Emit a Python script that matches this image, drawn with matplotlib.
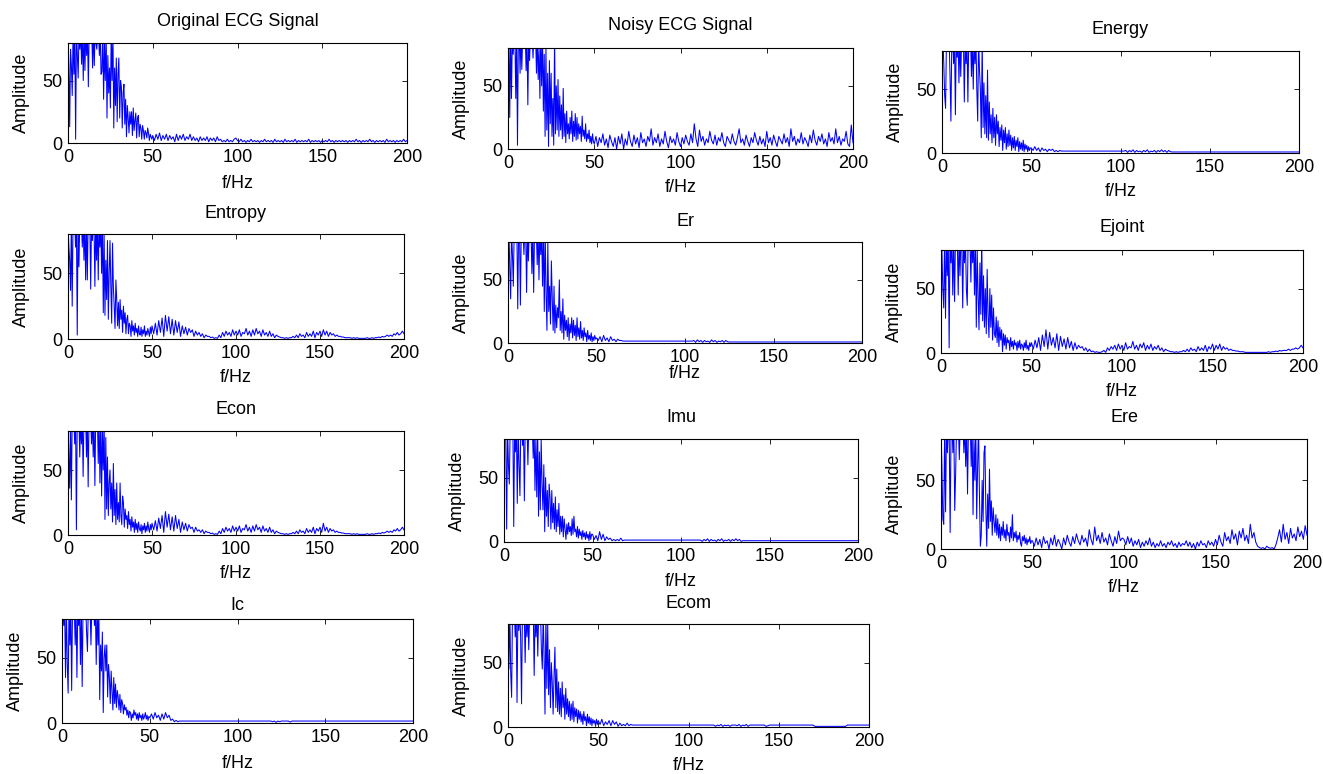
import numpy as np
import matplotlib
matplotlib.use("Agg")
import matplotlib.pyplot as plt

plt.rcParams['font.family'] = ['Liberation Sans', 'DejaVu Sans']
plt.rcParams['font.size'] = 13

# amplitude spectra (values above 80 are clipped in the picture)
# *_lo: 0 - 49.5 Hz in 0.5 Hz steps, *_mid: 50 - 99 Hz and *_hi: 100 - 200 Hz in 1 Hz steps
orig_lo = [90, 60, 13, 75, 62, 38, 90, 55, 90, 3, 90, 70, 52, 90, 75, 90, 63, 90, 50, 90,
           58, 90, 70, 90, 45, 90, 85, 90, 90, 60, 90, 62, 90, 80, 75, 90, 90, 70, 90, 55,
           57, 90, 35, 80, 50, 90, 20, 70, 40, 60, 28, 90, 50, 90, 12, 60, 30, 68, 17, 55,
           68, 20, 50, 45, 12, 40, 47, 15, 35, 5, 30, 20, 8, 25, 15, 25, 6, 28, 10, 18,
           24, 4, 20, 22, 5, 15, 12, 3, 14, 10, 3, 10, 8, 4, 12, 8, 2, 7, 5, 3]
orig_mid = [6, 2, 7, 3, 8, 2, 6, 3, 7, 2, 6, 3, 5, 1, 7, 2, 6, 3, 7, 2,
            5, 3, 7, 2, 5, 2, 4, 1, 5, 2, 4, 2, 5, 1, 4, 2, 4, 1, 5, 2,
            3, 1, 2, 1, 3, 1, 2, 1, 3, 4]
orig_hi = [2, 1, 3, 1, 2, 0.5, 2, 1, 3, 1, 2, 1, 2, 0.5, 2, 1, 3, 1, 2, 1,
           2, 0.5, 3, 1, 2, 1, 2, 0.5, 3, 1, 2, 1, 2, 1, 3, 0.5, 2, 1, 2, 1,
           2, 1, 3, 0.5, 2, 1, 2, 1, 2, 0.5, 2, 1, 2, 1, 3, 1, 2, 0.5, 2, 1,
           2, 1, 2, 1, 2, 0.5, 2, 1, 2, 1, 3, 1, 2, 0.5, 2, 1, 2, 1, 3, 1,
           2, 0.5, 2, 1, 2, 1, 2, 0.5, 3, 1, 2, 1, 2, 0.5, 2, 1, 2, 1, 3, 1, 2]

noisy_lo = [90, 90, 25, 90, 40, 90, 75, 90, 90, 40, 90, 3, 90, 90, 60, 90, 63, 90, 80, 90,
            90, 62, 90, 35, 90, 70, 90, 80, 90, 72, 90, 85, 90, 60, 90, 55, 80, 40, 90, 50,
            90, 30, 75, 10, 80, 15, 60, 2, 70, 20, 60, 10, 40, 3, 90, 12, 50, 15, 55, 10,
            42, 15, 35, 8, 48, 10, 28, 5, 30, 12, 20, 8, 25, 12, 30, 6, 22, 10, 28, 7,
            25, 8, 20, 12, 18, 6, 26, 10, 15, 8, 20, 6, 12, 8, 15, 5, 10, 4, 12, 6]
noisy_mid = [4, 10, 2, 9, 5, 12, 3, 8, 1, 11, 6, 2, 9, 0, 10, 4, 12, 0, 8, 3,
             14, 6, 2, 11, 4, 9, 1, 13, 5, 8, 2, 10, 6, 16, 3, 9, 5, 12, 2, 8,
             4, 14, 6, 1, 10, 5, 8, 3, 13, 6]
noisy_hi = [2, 9, 4, 11, 6, 3, 12, 5, 20, 8, 2, 15, 6, 10, 3, 8, 5, 14, 7, 4,
            11, 3, 9, 6, 13, 5, 2, 10, 7, 4, 12, 6, 3, 9, 16, 5, 8, 3, 11, 6,
            2, 9, 5, 13, 7, 3, 10, 4, 8, 2, 14, 5, 9, 3, 11, 6, 2, 10, 7, 4,
            12, 5, 9, 2, 16, 6, 10, 3, 8, 5, 13, 4, 9, 6, 2, 11, 5, 15, 7, 3,
            10, 6, 12, 4, 8, 2, 13, 6, 9, 4, 16, 5, 10, 3, 8, 6, 14, 4, 2, 19, 5]

energy_lo = [90, 90, 70, 45, 35, 90, 90, 80, 90, 60, 25, 90, 90, 70, 90, 30, 90, 75, 90, 55,
             90, 60, 90, 80, 90, 40, 90, 70, 90, 40, 90, 85, 90, 60, 90, 50, 90, 70, 90, 50,
             25, 90, 65, 50, 12, 90, 20, 55, 15, 45, 12, 65, 10, 40, 15, 30, 8, 35, 12, 28,
             6, 30, 15, 25, 5, 20, 10, 22, 2, 18, 8, 20, 3, 15, 5, 18, 6, 14, 2, 12,
             4, 13, 2, 10, 5, 12, 1, 9, 3, 8, 2, 10, 1, 7, 3, 6, 1, 5, 2, 4]
energy_mid = [4, 2, 5, 2, 4, 1, 4, 2, 3, 1, 3, 2, 3, 1, 2, 1, 2, 1.5, 1.5, 1.5,
              1.5, 1.5, 1.5, 1.5, 1.5, 1.5, 1.5, 1.5, 1.5, 1.5, 1.5, 1.5, 1.5, 1.5, 1.5, 1.5, 1.5, 1.5, 1.5, 1.5,
              1.5, 1.5, 1.5, 1.5, 1.5, 1.5, 1.5, 1.5, 1.5, 1.5]
energy_hi = [1.5, 1.5, 1.5, 2, 0.5, 2, 1, 2.5, 0.5, 2, 1, 1.5, 0.5, 2, 1, 2.5, 0.5, 1.5, 1, 2,
             0.5, 2, 1, 2.5, 1, 2, 0.5, 2, 1, 0.8, 0.8, 0.8, 0.8, 0.8, 0.8, 0.8, 0.8, 0.8, 0.8, 0.8,
             0.8, 0.8, 0.8, 0.8, 0.8, 0.8, 0.8, 0.8, 0.8, 0.8, 0.8, 0.8, 0.8, 0.8, 0.8, 0.8, 0.8, 0.8, 0.8, 0.8,
             0.8, 0.8, 0.8, 0.8, 0.8, 0.8, 0.8, 0.8, 0.8, 0.8, 0.8, 0.8, 0.8, 0.8, 0.8, 0.8, 0.8, 0.8, 0.8, 0.8,
             0.8, 0.8, 0.8, 0.8, 0.8, 0.8, 0.8, 0.8, 0.8, 0.8, 0.8, 0.8, 0.8, 0.8, 0.8, 0.8, 0.8, 0.8, 0.8, 0.8, 0.8]

er_lo = [90, 90, 60, 35, 90, 70, 45, 90, 90, 80, 90, 27, 90, 90, 30, 90, 80, 90, 70, 90,
         90, 40, 90, 65, 90, 80, 90, 55, 90, 40, 90, 80, 90, 62, 90, 50, 90, 70, 90, 45,
         90, 25, 90, 40, 10, 80, 25, 45, 15, 65, 35, 10, 45, 8, 30, 12, 28, 20, 50, 10,
         25, 8, 35, 3, 22, 10, 18, 5, 20, 2, 15, 8, 20, 4, 18, 6, 14, 2, 20, 5,
         12, 3, 17, 4, 10, 2, 12, 5, 8, 1, 10, 3, 6, 2, 8, 1, 5, 2, 6, 3]
er_mid = [4, 2, 5, 1, 6, 2, 4, 1, 5, 2, 3, 1, 3, 2, 2, 1.5, 1.5, 1.5, 1.5, 1.5,
          1.5, 1.5, 1.5, 1.5, 1.5, 1.5, 1.5, 1.5, 1.5, 1.5, 1.5, 1.5, 1.5, 1.5, 1.5, 1.5, 1.5, 1.5, 1.5, 1.5,
          1.5, 1.5, 1.5, 1.5, 1.5, 1.5, 1.5, 1.5, 1.5, 1.5]
er_hi = [1.5, 1.5, 1.5, 1.5, 1.5, 2, 0.5, 2.5, 1, 2, 0.5, 2, 1, 1.5, 0.5, 2.5, 1, 2, 0.5, 1.5,
         1, 2, 0.5, 2, 1, 0.8, 0.8, 0.8, 0.8, 0.8, 0.8, 0.8, 0.8, 0.8, 0.8, 0.8, 0.8, 0.8, 0.8, 0.8,
         0.8, 0.8, 0.8, 0.8, 0.8, 0.8, 0.8, 0.8, 0.8, 0.8, 0.8, 0.8, 0.8, 0.8, 0.8, 0.8, 0.8, 0.8, 0.8, 0.8,
         0.8, 0.8, 0.8, 0.8, 0.8, 0.8, 0.8, 0.8, 0.8, 0.8, 0.8, 0.8, 0.8, 0.8, 0.8, 0.8, 0.8, 0.8, 0.8, 0.8,
         0.8, 0.8, 0.8, 0.8, 0.8, 0.8, 0.8, 0.8, 0.8, 0.8, 0.8, 0.8, 0.8, 0.8, 0.8, 0.8, 0.8, 0.8, 0.8, 0.8, 0.8]

imu_lo = [90, 90, 80, 10, 90, 60, 45, 90, 80, 90, 90, 12, 90, 70, 90, 30, 90, 60, 36, 90,
          90, 75, 90, 32, 90, 80, 90, 60, 90, 90, 90, 85, 90, 65, 90, 40, 80, 35, 90, 20,
          70, 25, 80, 45, 25, 60, 8, 50, 20, 40, 12, 45, 35, 10, 40, 15, 30, 10, 35, 8,
          25, 12, 30, 6, 20, 8, 20, 4, 18, 10, 2, 14, 6, 15, 8, 12, 5, 18, 6, 20,
          8, 10, 4, 12, 3, 10, 5, 8, 2, 9, 4, 7, 2, 8, 3, 6, 1, 8, 2, 6]
imu_mid = [6, 2, 5, 1, 8, 2, 6, 1, 4, 2, 3, 1, 2, 1, 2, 1, 3, 1, 1.5, 1.5,
           1.5, 1.5, 1.5, 1.5, 1.5, 1.5, 1.5, 1.5, 1.5, 1.5, 1.5, 1.5, 1.5, 1.5, 1.5, 1.5, 1.5, 1.5, 1.5, 1.5,
           1.5, 1.5, 1.5, 1.5, 1.5, 1.5, 1.5, 1.5, 1.5, 1.5]
imu_hi = [1.5, 1.5, 1.5, 1.5, 1.5, 1.5, 1.5, 1.5, 1.5, 1.5, 1.5, 1.5, 0.5, 2, 1, 2.5, 0.5, 2, 1, 1.5,
          0.5, 2, 1, 2.5, 0.5, 1.5, 1, 2, 0.5, 2, 1, 2.5, 1, 2, 0.5, 1, 1, 1, 1, 1,
          1, 1, 1, 1, 1, 1, 1, 1, 1, 1, 1, 1, 1, 1, 1, 1, 1, 1, 1, 1,
          1, 1, 1, 1, 1, 1, 1, 1, 1, 1, 1, 1, 1, 1, 1, 1, 1, 1, 1, 1,
          1, 1, 1, 1, 1, 1, 1, 1, 1, 1, 1, 1, 1, 1, 1, 1, 1, 1, 1, 1, 1]

ic_lo = [90, 90, 75, 90, 35, 90, 45, 23, 90, 60, 90, 25, 90, 80, 90, 60, 90, 35, 90, 75,
         90, 45, 90, 28, 90, 90, 80, 90, 70, 55, 90, 85, 90, 60, 90, 80, 90, 75, 90, 45,
         90, 60, 85, 18, 60, 40, 70, 8, 50, 60, 40, 60, 20, 45, 35, 15, 40, 25, 10, 35,
         15, 30, 12, 25, 20, 10, 22, 8, 18, 15, 7, 14, 10, 12, 6, 10, 4, 9, 8, 2,
         7, 4, 10, 6, 8, 3, 7, 2, 8, 4, 6, 2, 7, 3, 5, 8, 3, 6, 2, 5]
ic_mid = [4, 7, 3, 8, 4, 6, 2, 7, 3, 8, 4, 6, 2, 3, 1, 2, 1, 1.5, 1.5, 1.5,
          1.5, 1.5, 1.5, 1.5, 1.5, 1.5, 1.5, 1.5, 1.5, 1.5, 1.5, 1.5, 1.5, 1.5, 1.5, 1.5, 1.5, 1.5, 1.5, 1.5,
          1.5, 1.5, 1.5, 1.5, 1.5, 1.5, 1.5, 1.5, 1.5, 1.5]
ic_hi = [1.5, 1.5, 1.5, 1.5, 1.5, 1.5, 1.5, 1.5, 1.5, 1.5, 1.5, 1.5, 1.5, 1.5, 1.5, 1.5, 1.5, 1.5, 1.5, 1.5,
         1, 1.5, 0.5, 1.5, 1, 1.5, 1.5, 1.5, 1.5, 1.5, 0.7, 1.5, 1.5, 1.5, 1.5, 1.5, 1.5, 1.5, 1.5, 1.5,
         1.5, 1.5, 1.5, 1.5, 1.5, 1.5, 1.5, 1.5, 1.5, 1.5, 1.5, 1.5, 1.5, 1.5, 1.5, 1.5, 1.5, 1.5, 1.5, 1.5,
         1.5, 1.5, 1.5, 1.5, 1.5, 1.5, 1.5, 1.5, 1.5, 1.5, 1.5, 1.5, 1.5, 1.5, 1.5, 1.5, 1.5, 1.5, 1.5, 1.5,
         1.5, 1.5, 1.5, 1.5, 1.5, 1.5, 1.5, 1.5, 1.5, 1.5, 1.5, 1.5, 1.5, 1.5, 1.5, 1.5, 1.5, 1.5, 1.5, 1.5, 1.5]

ecom_lo = [90, 45, 90, 42, 23, 90, 80, 90, 70, 90, 19, 90, 75, 90, 70, 18, 90, 80, 90, 50,
           90, 70, 90, 60, 90, 80, 90, 85, 90, 40, 90, 70, 90, 55, 90, 80, 90, 60, 45, 90,
           55, 10, 90, 30, 80, 25, 60, 15, 50, 35, 10, 40, 62, 15, 45, 12, 35, 10, 30, 8,
           35, 15, 25, 6, 30, 10, 22, 8, 20, 5, 18, 6, 20, 4, 15, 8, 14, 3, 13, 6,
           12, 4, 10, 2, 12, 5, 8, 1, 10, 3, 8, 2, 7, 1, 6, 3, 5, 0.5, 6, 2]
ecom_mid = [5, 2, 6, 1, 4, 2, 5, 1, 5, 2, 4, 0.5, 3, 1, 2, 1, 3, 1, 2, 1.5,
            1.5, 1.5, 1.5, 1.5, 1.5, 1.5, 1.5, 1.5, 1.5, 1.5, 1.5, 1.5, 1.5, 1.5, 1.5, 1.5, 1.5, 1.5, 1.5, 1.5,
            1.5, 1.5, 1.5, 1.5, 1.5, 1.5, 1.5, 1.5, 1.5, 1.5]
ecom_hi = [1.5, 1.5, 1.5, 1.5, 1.5, 1.5, 1.5, 1.5, 1.5, 1.5, 1.5, 1.5, 1.5, 1.5, 1.5, 0.5, 1.5, 1, 2, 0.5,
           1.5, 1, 1.5, 0.5, 1.5, 1.5, 1.5, 1, 2, 0.5, 1.5, 1, 2, 0.5, 1.5, 1.5, 1.5, 1.5, 1.5, 1.5,
           1.5, 1.5, 1.5, 0.5, 1, 1.5, 1.5, 1.5, 1.5, 1.5, 1.5, 1.5, 1.5, 1.5, 1.5, 1.5, 1.5, 1.5, 1.5, 1.5,
           1.5, 1.5, 1.5, 1.5, 1.5, 1.5, 1.5, 1.5, 1.5, 1.5, 0.5, 0.5, 0.5, 0.5, 0.5, 0.5, 0.5, 0.5, 0.5, 0.5,
           0.5, 0.5, 0.5, 0.5, 0.5, 0.5, 0.5, 0.5, 1.5, 1.5, 1.5, 1.5, 1.5, 1.5, 1.5, 1.5, 1.5, 1.5, 1.5, 1.5, 1.5]

entropy_lo = [90, 70, 60, 37, 90, 25, 90, 80, 90, 70, 90, 3, 90, 55, 90, 85, 90, 70, 90, 60,
              90, 45, 90, 45, 90, 80, 90, 38, 90, 75, 90, 85, 40, 90, 60, 90, 45, 90, 70, 90,
              50, 90, 20, 80, 18, 60, 30, 75, 15, 50, 75, 40, 12, 73, 40, 25, 8, 45, 30, 10,
              28, 8, 30, 15, 22, 5, 25, 12, 20, 4, 15, 18, 4, 12, 10, 2, 14, 6, 10, 3,
              12, 5, 8, 2, 10, 4, 3, 9, 2, 7, 4, 10, 2, 6, 3, 8, 5, 2, 9, 4]
entropy_mid = [10, 4, 12, 3, 14, 5, 16, 2, 18, 6, 17, 4, 15, 3, 14, 5, 13, 2, 10, 4,
               9, 3, 8, 5, 7, 2, 6, 3, 5, 2, 4, 1, 3, 2, 2, 1, 1.5, 0.5, 1, 0.5,
               3, 1, 5, 2, 6, 3, 5, 2, 7, 3]
entropy_hi = [6, 3, 7, 2, 5, 4, 8, 3, 6, 2, 7, 3, 8, 4, 6, 2, 7, 3, 5, 2,
              6, 2, 4, 1, 3, 2, 1.5, 1, 1, 0.5, 1, 0.5, 1, 1, 2, 1, 3, 1, 4, 2,
              3, 1, 5, 2, 4, 2, 6, 1, 5, 3, 6, 2, 7, 3, 6, 2, 5, 3, 4, 2,
              3, 2, 2, 1.5, 1.5, 1, 1, 1, 1, 0.5, 1, 0.5, 1, 0.5, 0.5, 0.5, 0.5, 0.5, 1, 0.5,
              0.5, 1, 0.5, 1, 1, 1.5, 1, 2, 1.5, 2, 3, 2, 3, 2, 4, 3, 5, 3, 4, 6, 4]

ejoint_lo = [90, 80, 50, 35, 90, 27, 90, 60, 90, 4, 90, 70, 90, 45, 90, 40, 90, 80, 90, 45,
             90, 60, 90, 85, 35, 90, 70, 90, 50, 37, 90, 80, 90, 55, 90, 70, 90, 45, 90, 20,
             80, 45, 18, 70, 30, 90, 25, 60, 20, 50, 15, 65, 30, 12, 50, 20, 45, 10, 35, 15,
             12, 28, 8, 25, 5, 20, 10, 18, 1, 15, 6, 14, 3, 12, 8, 10, 2, 12, 5, 9,
             3, 10, 6, 8, 2, 9, 4, 10, 3, 7, 6, 2, 8, 4, 10, 3, 6, 2, 8, 5]
ejoint_mid = [8, 3, 10, 4, 12, 2, 14, 5, 18, 3, 16, 6, 12, 4, 15, 2, 13, 5, 11, 3,
              12, 4, 9, 2, 8, 3, 6, 4, 5, 2, 4, 1, 3, 1, 1.5, 0.5, 1, 0.5, 0.5, 1,
              2, 0.5, 4, 2, 5, 3, 6, 2, 7, 3]
ejoint_hi = [6, 2, 8, 3, 5, 4, 9, 3, 6, 2, 7, 4, 8, 2, 6, 3, 7, 2, 5, 3,
             6, 2, 4, 1, 3, 2, 1.5, 1, 1, 0.5, 1, 0.5, 1, 1, 2, 1, 3, 1, 4, 2,
             3, 1, 5, 2, 4, 2, 6, 1, 5, 3, 7, 2, 6, 3, 7, 2, 5, 3, 4, 2,
             3, 2, 2, 1.5, 1.5, 1, 1, 1, 0.5, 0.5, 0.5, 0.5, 0.5, 0.5, 0.5, 0.5, 0.5, 0.5, 0.5, 0.5,
             0.5, 1, 0.5, 1, 1, 1.5, 1, 2, 1.5, 2, 2, 2, 3, 2, 3, 3, 4, 3, 4, 6, 4]

econ_lo = [90, 60, 36, 90, 27, 90, 80, 90, 70, 90, 4, 90, 85, 90, 60, 90, 70, 90, 45, 90,
           80, 90, 60, 90, 37, 90, 85, 90, 70, 90, 60, 90, 38, 90, 80, 90, 55, 90, 40, 90,
           30, 80, 50, 90, 12, 75, 20, 60, 15, 40, 50, 20, 40, 10, 55, 15, 35, 8, 40, 12,
           25, 10, 40, 15, 8, 30, 25, 6, 20, 12, 15, 5, 18, 8, 12, 3, 14, 6, 10, 2,
           12, 4, 9, 2, 10, 5, 3, 8, 1, 7, 4, 9, 2, 7, 3, 10, 5, 2, 8, 4]
econ_mid = [9, 4, 11, 3, 13, 5, 15, 2, 18, 6, 16, 4, 14, 3, 15, 5, 12, 2, 10, 4,
            9, 3, 8, 5, 6, 2, 6, 3, 4, 2, 4, 1, 3, 2, 2, 1, 1.5, 0.5, 1, 0.5,
            3, 1, 5, 2, 6, 3, 5, 2, 7, 3]
econ_hi = [6, 3, 7, 2, 5, 4, 8, 3, 6, 2, 7, 3, 8, 4, 6, 2, 7, 3, 5, 2,
           6, 2, 4, 1, 3, 2, 1.5, 1, 1, 0.5, 1, 0.5, 1, 1, 2, 1, 3, 1, 4, 2,
           3, 1, 5, 2, 4, 2, 6, 1, 5, 3, 6, 2, 9, 3, 6, 2, 5, 3, 4, 2,
           3, 2, 2, 1.5, 1.5, 1, 1, 1, 1, 0.5, 1, 0.5, 1, 0.5, 0.5, 0.5, 0.5, 0.5, 1, 0.5,
           0.5, 1, 0.5, 1, 1, 1.5, 1, 2, 1.5, 2, 3, 2, 3, 2, 4, 3, 5, 3, 4, 6, 4]

ere_lo = [90, 60, 22, 18, 90, 27, 90, 70, 90, 80, 12, 90, 90, 70, 90, 28, 55, 90, 80, 90,
          65, 90, 90, 80, 90, 70, 90, 60, 90, 40, 90, 80, 90, 60, 90, 25, 80, 50, 90, 22,
          60, 90, 40, 2, 10, 50, 20, 70, 75, 30, 2, 40, 15, 58, 20, 35, 10, 30, 20, 12,
          25, 10, 22, 8, 18, 6, 16, 10, 20, 8, 14, 6, 18, 10, 12, 5, 16, 8, 25, 6,
          12, 8, 13, 5, 10, 7, 12, 4, 2, 9, 6, 10, 4, 8, 3, 7, 5, 9, 4, 6]
ere_mid = [6, 2, 8, 3, 7, 1, 9, 4, 6, 0, 8, 3, 10, 2, 7, 4, 0, 8, 3, 10,
           5, 2, 9, 4, 11, 6, 3, 10, 5, 8, 2, 14, 7, 3, 16, 6, 10, 4, 12, 5,
           8, 3, 11, 6, 2, 9, 4, 13, 6, 8]
ere_hi = [7, 3, 9, 4, 8, 2, 6, 3, 7, 1, 5, 2, 6, 3, 8, 2, 5, 1, 4, 2,
          6, 2, 4, 1, 5, 3, 6, 2, 4, 1, 5, 2, 4, 3, 6, 2, 5, 1, 4, 0,
          5, 2, 6, 3, 4, 1, 6, 3, 5, 2, 7, 3, 10, 5, 2, 12, 6, 9, 4, 14,
          7, 11, 3, 13, 8, 15, 6, 10, 4, 18, 8, 12, 5, 2, 1, 0.5, 1, 0, 2, 1,
          0.5, 1, 0, 3, 8, 14, 5, 18, 7, 12, 4, 15, 8, 11, 6, 16, 9, 13, 7, 17, 10]

titles = ['Original ECG Signal', 'Noisy ECG Signal', 'Energy', 'Entropy', 'Er', 'Ejoint',
          'Econ', 'Imu', 'Ere', 'Ic', 'Ecom']
low_bands = [orig_lo, noisy_lo, energy_lo, entropy_lo, er_lo, ejoint_lo,
             econ_lo, imu_lo, ere_lo, ic_lo, ecom_lo]
high_bands = [orig_mid + orig_hi, noisy_mid + noisy_hi, energy_mid + energy_hi,
              entropy_mid + entropy_hi, er_mid + er_hi, ejoint_mid + ejoint_hi,
              econ_mid + econ_hi, imu_mid + imu_hi, ere_mid + ere_hi,
              ic_mid + ic_hi, ecom_mid + ecom_hi]

# axes boxes in pixels: left, top, right, bottom
boxes = [(68, 43, 407, 143), (508, 48, 853, 149), (942, 51, 1299, 153),
         (68, 234, 404, 339), (508, 242, 862, 343), (941, 250, 1303, 353),
         (68, 431, 404, 535), (504, 439, 858, 542), (941, 439, 1307, 549),
         (62, 619, 413, 723), (508, 624, 869, 727)]
title_gap = [22, 22, 21, 21, 21, 22, 22, 22, 22, 14, 21]
xlabel_gap = [40, 39, 38, 39, 30, 38, 38, 39, 38, 40, 38]

W, H = 1323, 774
fig = plt.figure(figsize=(W / 100, H / 100), dpi=100)

for i in range(len(titles)):
    l, t, r, b = boxes[i]
    ax = fig.add_axes([l / W, 1 - b / H, (r - l) / W, (b - t) / H])
    lo = low_bands[i]
    hi = high_bands[i]
    f = np.concatenate([np.linspace(0, 49.5, len(lo)), np.linspace(50, 200, len(hi))])
    ax.plot(f, lo + hi, color='#0000ff', lw=0.75)
    ax.set_xlim(0, 200)
    ax.set_ylim(0, 80)
    ax.set_xticks([0, 50, 100, 150, 200])
    ax.set_yticks([0, 50])
    ax.tick_params(direction='in', length=3.6, width=0.6, top=True, right=True,
                   labelsize=13, pad=4)
    for s in ax.spines.values():
        s.set_linewidth(0.8)
    h = b - t
    w = r - l
    ax.set_title(titles[i], y=1 + title_gap[i] / h, va='center', pad=0, fontsize=13)
    ax.set_xlabel('f/Hz', va='center', fontsize=13)
    ax.xaxis.set_label_coords(0.5, -xlabel_gap[i] / h)
    ax.set_ylabel('Amplitude', va='center', fontsize=13)
    ax.yaxis.set_label_coords(-47 / w, 0.5)

fig.savefig('out.png', dpi=100)
